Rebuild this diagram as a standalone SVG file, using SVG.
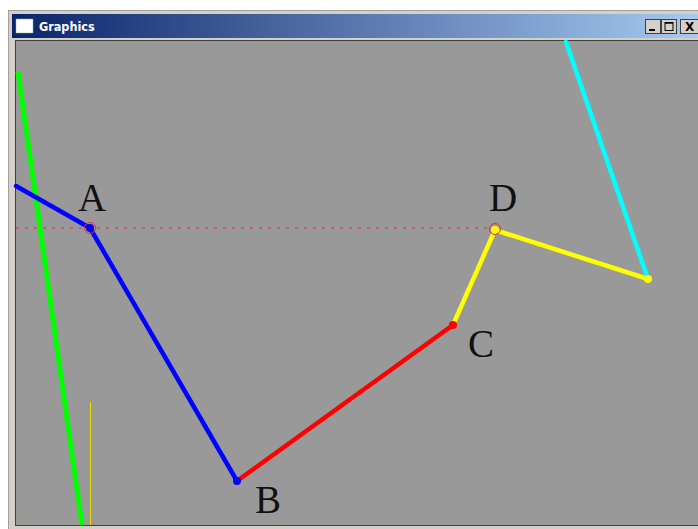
<svg xmlns="http://www.w3.org/2000/svg" width="698" height="529" viewBox="0 0 698 529">
<style>
.lbl{font-family:"Liberation Serif","Times New Roman",serif;font-size:39px;fill:#111}
.seg{stroke-width:4.5;stroke-linecap:round;fill:none}
.ttl{font-family:"DejaVu Sans Condensed","DejaVu Sans",sans-serif;font-weight:bold;font-size:12.5px;fill:#fff}
.btn{fill:#d4d0c8;stroke:#404040;stroke-width:1}
</style>
<defs>
<linearGradient id="tb" x1="0" y1="0" x2="1" y2="0">
<stop offset="0" stop-color="#0a246a"/>
<stop offset="1" stop-color="#a6caf0"/>
</linearGradient>
</defs>
<rect x="0" y="0" width="698" height="529" fill="#ffffff"/>
<g id="window">
<rect x="8" y="10" width="690" height="519" fill="#d4d0c8"/>
<line x1="8.5" y1="10" x2="8.5" y2="529" stroke="#a0a0a0"/>
<line x1="8" y1="10.5" x2="698" y2="10.5" stroke="#a0a0a0"/>
<rect x="12" y="14" width="686" height="24" fill="url(#tb)"/>
<rect x="16" y="19" width="17" height="14" fill="#ffffff" stroke="#8aa" stroke-width="0.5"/>
<text class="ttl" x="39" y="31">Graphics</text>
<rect class="btn" x="645.5" y="19.5" width="15" height="14"/>
<line x1="649" y1="30" x2="655" y2="30" stroke="#000" stroke-width="2"/>
<rect class="btn" x="661.5" y="19.5" width="15" height="14"/>
<rect x="665" y="22.5" width="8" height="8" fill="none" stroke="#000" stroke-width="1"/>
<line x1="665" y1="23" x2="673" y2="23" stroke="#000" stroke-width="1.5"/>
<rect class="btn" x="680.5" y="19.5" width="18" height="14"/>
<text x="685" y="31" font-family="DejaVu Sans, sans-serif" font-weight="bold" font-size="12" fill="#000">X</text>
<rect x="15" y="40" width="683" height="486" fill="#404040"/>
<rect x="16" y="41" width="682" height="484" fill="#999999"/>
</g>
<g id="connectors">
<line x1="16" y1="228" x2="495" y2="228" stroke="#e03030" stroke-width="1" stroke-dasharray="3 6"/>
<line x1="18" y1="72" x2="82" y2="525" stroke="#00ff00" stroke-width="5"/>
<line x1="90.5" y1="402" x2="90.5" y2="525" stroke="#e8e000" stroke-width="1"/>
<line class="seg" x1="16" y1="186" x2="90" y2="228" stroke="#0000ff"/>
<line class="seg" x1="90" y1="228" x2="237" y2="481" stroke="#0000ff"/>
<line class="seg" x1="237" y1="481" x2="453" y2="325" stroke="#ff0000"/>
<line class="seg" x1="453" y1="325" x2="495" y2="230" stroke="#ffff00"/>
<line class="seg" x1="495" y1="230" x2="648" y2="279" stroke="#ffff00"/>
<line class="seg" x1="566" y1="42" x2="648" y2="279" stroke="#00ffff"/>
</g>
<g id="A">
<circle cx="90" cy="228" r="4" fill="#0000ff"/>
<circle cx="90" cy="228" r="5.5" fill="none" stroke="#e03030" stroke-width="1"/>
<text class="lbl" x="78" y="211">A</text>
</g>
<g id="B">
<circle cx="237" cy="481" r="4" fill="#0000ff"/>
<text class="lbl" x="255" y="513">B</text>
</g>
<g id="C">
<circle cx="453" cy="325" r="4" fill="#ff0000"/>
<text class="lbl" x="468" y="357">C</text>
</g>
<g id="D">
<circle cx="495" cy="230" r="4" fill="#ffff00"/>
<circle cx="495" cy="229" r="5.5" fill="none" stroke="#e03030" stroke-width="1"/>
<text class="lbl" x="489" y="211">D</text>
</g>
<g id="E">
<circle cx="648" cy="279" r="4" fill="#ffff00"/>
</g>
</svg>
